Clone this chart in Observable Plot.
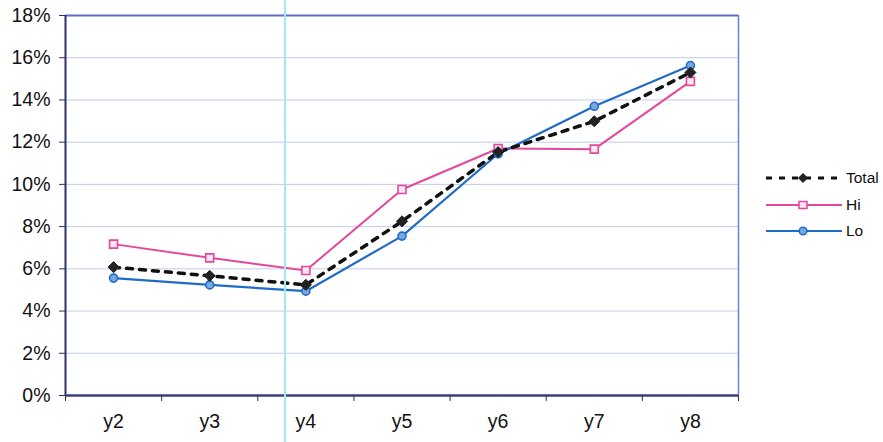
<!DOCTYPE html>
<html>
<head>
<meta charset="utf-8">
<script src="https://cdn.jsdelivr.net/npm/d3@7"></script>
<script src="https://cdn.jsdelivr.net/npm/@observablehq/plot@0.6"></script>
<style>
  html, body { margin: 0; padding: 0; background: #fff; }
  #wrap { position: relative; width: 883px; height: 442px; font-family: "Liberation Sans", Arial, sans-serif; }
  #chart svg text { font-size: 19.5px; fill: #111; }
  #scanline { position: absolute; left: 284px; top: 0; width: 2px; height: 442px; background: #9eecef; }
  #legend { position: absolute; left: 764px; top: 165px; font-size: 15.5px; color: #111; }
  #legend .row { display: flex; align-items: center; height: 26.5px; }
  #legend svg { display: block; }
</style>
</head>
<body>
<div id="wrap">
  <div id="chart"></div>
  <div id="scanline"></div>
  <div id="legend"></div>
</div>
<script>
// Period labels along the x axis
const categories = ["y2", "y3", "y4", "y5", "y6", "y7", "y8"];

// Rates per period, as fractions
const total = [0.0608, 0.0567, 0.0524, 0.0825, 0.1153, 0.1299, 0.1530];
const hi    = [0.0717, 0.0652, 0.0592, 0.0976, 0.1170, 0.1167, 0.1488];
const lo    = [0.0556, 0.0524, 0.0494, 0.0755, 0.1145, 0.1370, 0.1563];

// Y axis tick values
const yTicks = [0, 0.02, 0.04, 0.06, 0.08, 0.10, 0.12, 0.14, 0.16, 0.18];

const series = [
  {name: "Total", values: total},
  {name: "Hi", values: hi},
  {name: "Lo", values: lo}
];

const rows = series.flatMap(s => s.values.map((v, i) => ({series: s.name, i, value: v})));
const bySeries = name => rows.filter(d => d.series === name);

const colors = {Total: "#111111", Hi: "#e4489b", Lo: "#1f6cc6"};

const idx = categories.map((_, i) => i);
const boundaries = d3.range(-0.5, categories.length, 1);

const chart = Plot.plot({
  width: 883,
  height: 442,
  marginLeft: 65,
  marginRight: 145,
  marginTop: 15,
  marginBottom: 47,
  style: {fontFamily: "'Liberation Sans', Arial, sans-serif", fontSize: "19.5px", color: "#111", background: "#fff"},
  x: {domain: [-0.5, categories.length - 0.5], axis: null},
  y: {domain: [0, 0.18], axis: null},
  marks: [
    // horizontal grid
    Plot.ruleY(yTicks.slice(1, -1), {stroke: "#c3cbea", strokeWidth: 1}),
    // plot frame: top and right lighter, left and bottom darker
    Plot.ruleY([0.18], {stroke: "#5d6cc8", strokeWidth: 2}),
    Plot.ruleX([categories.length - 0.5], {stroke: "#6f7fd6", strokeWidth: 1.5}),
    Plot.ruleX([-0.5], {stroke: "#2b3170", strokeWidth: 2}),
    Plot.ruleY([0], {stroke: "#3a3f80", strokeWidth: 2.5}),
    // y axis
    Plot.axisY({ticks: yTicks, label: null, tickSize: 6, tickPadding: 9, tickFormat: d3.format(".0%"), stroke: "#2b3170"}),
    // x axis: tick marks on category boundaries, labels centred
    Plot.axisX({ticks: boundaries, label: null, tickSize: 6, tickFormat: () => "", stroke: "#333"}),
    Plot.axisX({ticks: idx, label: null, tickSize: 0, tickPadding: 19, tickFormat: i => categories[i]}),
    // series lines
    Plot.line(bySeries("Hi"), {x: "i", y: "value", stroke: colors.Hi, strokeWidth: 2}),
    Plot.line(bySeries("Lo"), {x: "i", y: "value", stroke: colors.Lo, strokeWidth: 2.2}),
    Plot.line(bySeries("Total"), {x: "i", y: "value", stroke: colors.Total, strokeWidth: 3.5, strokeDasharray: "6,7"}),
    // markers
    Plot.dot(bySeries("Hi"), {x: "i", y: "value", symbol: "square", r: 4.5, fill: "#fbe6f1", stroke: colors.Hi, strokeWidth: 1.6}),
    Plot.dot(bySeries("Lo"), {x: "i", y: "value", symbol: "circle", r: 4, fill: "#74a9e2", stroke: colors.Lo, strokeWidth: 1.6}),
    Plot.dot(bySeries("Total"), {x: "i", y: "value", symbol: "diamond2", r: 5, fill: "#222", stroke: "#222", strokeWidth: 1})
  ]
});
document.getElementById("chart").appendChild(chart);

// legend to the right of the plot
const legend = d3.select("#legend");
const markerFor = {
  Total: g => g.append("path").attr("d", "M39,1 L44,6 L39,11 L34,6 Z").attr("fill", "#222"),
  Hi: g => g.append("rect").attr("x", 35).attr("y", 2.5).attr("width", 8).attr("height", 7)
    .attr("fill", "#fbe6f1").attr("stroke", colors.Hi).attr("stroke-width", 1.5),
  Lo: g => g.append("circle").attr("cx", 39).attr("cy", 6).attr("r", 3.8)
    .attr("fill", "#74a9e2").attr("stroke", colors.Lo).attr("stroke-width", 1.5)
};
series.forEach(s => {
  const row = legend.append("div").attr("class", "row");
  const svg = row.append("svg").attr("width", 80).attr("height", 12);
  svg.append("line").attr("x1", 2).attr("x2", 78).attr("y1", 6).attr("y2", 6)
    .attr("stroke", colors[s.name])
    .attr("stroke-width", s.name === "Total" ? 3 : 2)
    .attr("stroke-dasharray", s.name === "Total" ? "6,7" : null);
  markerFor[s.name](svg);
  row.append("span").style("margin-left", "2px").text(s.name);
});
</script>
</body>
</html>
